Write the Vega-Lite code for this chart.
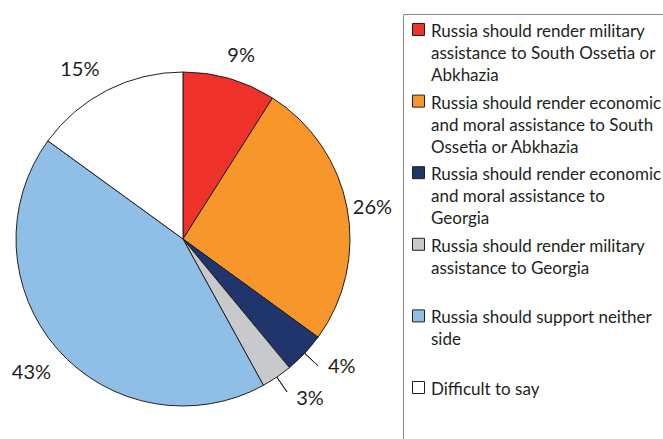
{
  "$schema": "https://vega.github.io/schema/vega-lite/v6.json",
  "width": 366,
  "height": 439,
  "padding": {"left": 0, "top": 0, "right": 297, "bottom": 0},
  "autosize": {"type": "none"},
  "background": "white",
  "config": {"view": {"stroke": null}, "font": "Lato"},
  "data": {
    "values": [
      {"answer": "Russia should render military\nassistance to South Ossetia or\nAbkhazia", "v": 9, "lbl": "9%", "k": 1},
      {"answer": "Russia should render economic\nand moral assistance to South\nOssetia or Abkhazia", "v": 26, "lbl": "26%", "k": 2},
      {"answer": "Russia should render economic\nand moral assistance to\nGeorgia", "v": 4, "lbl": "4%", "k": 3},
      {"answer": "Russia should render military\nassistance to Georgia", "v": 3, "lbl": "3%", "k": 4},
      {"answer": "Russia should support neither\nside", "v": 43, "lbl": "43%", "k": 5},
      {"answer": "Difficult to say", "v": 15, "lbl": "15%", "k": 6}
    ]
  },
  "encoding": {
    "theta": {"field": "v", "type": "quantitative", "stack": true},
    "order": {"field": "k", "type": "quantitative"}
  },
  "layer": [
    {
      "mark": {"type": "arc", "outerRadius": 167, "stroke": "#231f20", "strokeWidth": 1, "yOffset": 19.5},
      "encoding": {
        "color": {
          "field": "answer",
          "type": "nominal",
          "scale": {
            "domain": [
              "Russia should render military\nassistance to South Ossetia or\nAbkhazia",
              "Russia should render economic\nand moral assistance to South\nOssetia or Abkhazia",
              "Russia should render economic\nand moral assistance to\nGeorgia",
              "Russia should render military\nassistance to Georgia",
              "Russia should support neither\nside",
              "Difficult to say"
            ],
            "range": ["#ee3129", "#f7962b", "#1f356b", "#c8c9cb", "#8fbfe7", "#ffffff"]
          },
          "legend": {
            "orient": "none",
            "legendX": 403,
            "legendY": 14,
            "title": " ",
            "titleOrient": "bottom",
            "titlePadding": 40,
            "titleFontSize": 10,
            "symbolType": "square",
            "symbolSize": 144,
            "symbolStrokeColor": "#231f20",
            "symbolStrokeWidth": 1,
            "labelFont": "Lato",
            "labelFontSize": 17,
            "labelColor": "#231f20",
            "labelLimit": 400,
            "labelOffset": 4,
            "labelBaseline": "alphabetic",
            "labelExpr": "split(datum.label, '\\n')",
            "rowPadding": 8.6,
            "gridAlign": "all",
            "padding": 7,
            "strokeColor": "#888888",
            "encode": {
              "labels": {"update": {"dy": {"value": 7.5}, "lineHeight": {"value": 22}}},
              "symbols": {"update": {"stroke": {"value": "#231f20"}, "strokeWidth": {"value": 1}, "fillOpacity": {"value": 1}}}
            }
          }
        }
      }
    },
    {
      "mark": {"type": "arc", "innerRadius": 167, "outerRadius": 185, "padAngle": 0.6, "fillOpacity": 0, "stroke": "#231f20", "strokeWidth": 1, "yOffset": 19.5},
      "encoding": {
        "detail": {"field": "answer", "type": "nominal"},
        "strokeOpacity": {"condition": {"test": "datum.v < 5", "value": 1}, "value": 0}
      }
    },
    {
      "mark": {"type": "text", "radius": 192, "thetaOffset": 0.025, "fontSize": 20, "font": "Lato", "color": "#231f20", "yOffset": 19.5},
      "encoding": {
        "detail": {"field": "answer", "type": "nominal"},
        "text": {"field": "lbl", "type": "nominal"},
        "opacity": {"condition": {"test": "datum.v == 9 || datum.v == 26", "value": 1}, "value": 0}
      }
    },
    {
      "mark": {"type": "text", "radius": 198, "thetaOffset": -0.077, "fontSize": 20, "font": "Lato", "color": "#231f20", "yOffset": 19.5},
      "encoding": {
        "detail": {"field": "answer", "type": "nominal"},
        "text": {"field": "lbl", "type": "nominal"},
        "opacity": {"condition": {"test": "datum.v == 15", "value": 1}, "value": 0}
      }
    },
    {
      "mark": {"type": "text", "radius": 202, "fontSize": 20, "font": "Lato", "color": "#231f20", "yOffset": 19.5},
      "encoding": {
        "detail": {"field": "answer", "type": "nominal"},
        "text": {"field": "lbl", "type": "nominal"},
        "opacity": {"condition": {"test": "datum.v == 43", "value": 1}, "value": 0}
      }
    },
    {
      "mark": {"type": "text", "radius": 204, "thetaOffset": -0.075, "fontSize": 20, "font": "Lato", "color": "#231f20", "yOffset": 19.5},
      "encoding": {
        "detail": {"field": "answer", "type": "nominal"},
        "text": {"field": "lbl", "type": "nominal"},
        "opacity": {"condition": {"test": "datum.v < 5", "value": 1}, "value": 0}
      }
    }
  ]
}
